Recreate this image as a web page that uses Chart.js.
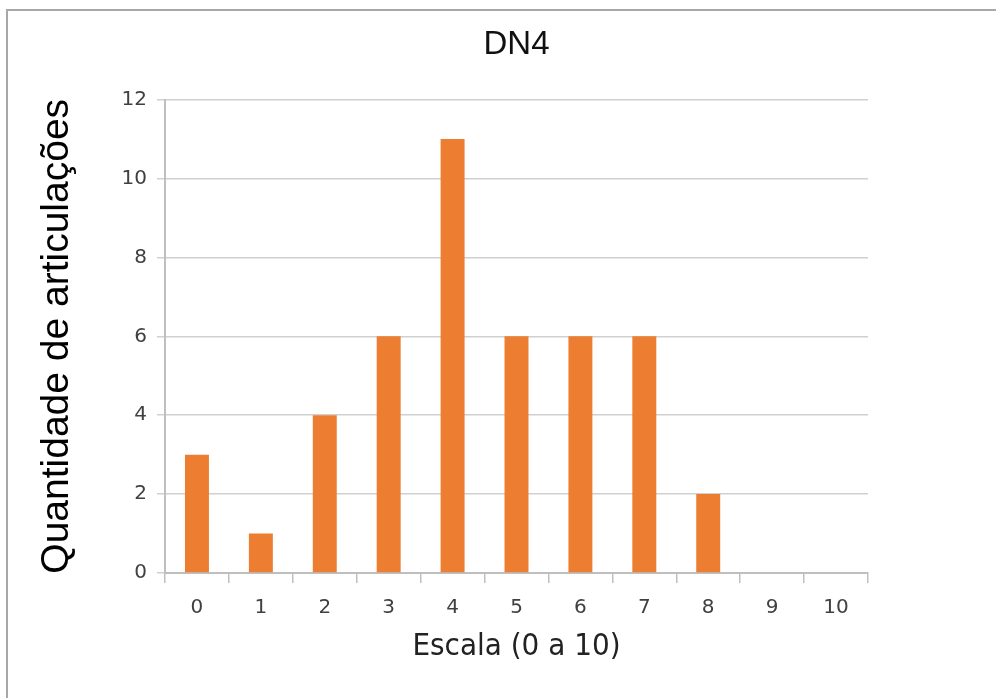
<!DOCTYPE html>
<html>
<head>
<meta charset="utf-8">
<script src="https://cdn.jsdelivr.net/npm/chart.js@4"></script>
<style>
  html, body { margin: 0; padding: 0; background: #ffffff; }
  #wrap { position: relative; width: 996px; height: 698px; }
  #frame { position: absolute; left: 6px; top: 9px; right: 0; bottom: 0;
           border-left: 2px solid #a8a8a8; border-top: 2px solid #a8a8a8; pointer-events: none; }
  canvas { position: absolute; left: 0; top: 0; }
</style>
</head>
<body>
<div id="wrap">
  <canvas id="c" width="996" height="698"></canvas>
  <div id="frame"></div>
</div>
<script>
const chartTitle = 'DN4';
const xAxisTitle = 'Escala (0 a 10)';
const yAxisTitle = 'Quantidade de articulações';
const categories = ['0', '1', '2', '3', '4', '5', '6', '7', '8', '9', '10'];
const values = [3, 1, 4, 6, 11, 6, 6, 6, 2, 0, 0];
const yTicks = [0, 2, 4, 6, 8, 10, 12];

const tickFont = "'DejaVu Sans', sans-serif";
const xTitleFont = "'DejaVu Sans Condensed', 'DejaVu Sans', sans-serif";

new Chart(document.getElementById('c'), {
  type: 'bar',
  data: {
    labels: categories,
    datasets: [{
      data: values,
      backgroundColor: '#ED7D31',
      borderWidth: 0,
      barPercentage: 0.375,
      categoryPercentage: 1.0
    }]
  },
  options: {
    responsive: false,
    animation: false,
    layout: { padding: { left: 4, right: 128, top: 0, bottom: 20 } },
    plugins: {
      legend: { display: false },
      tooltip: { enabled: false },
      title: {
        display: true,
        text: chartTitle,
        fullSize: false,
        color: '#111111',
        font: { family: "'Liberation Sans', Arial, sans-serif", size: 33, weight: 'normal' },
        padding: { top: 25, bottom: 35 }
      }
    },
    scales: {
      x: {
        grid: { offset: true, drawOnChartArea: false, drawTicks: true, tickLength: 10, color: '#bfbfbf', lineWidth: 1.5 },
        border: { display: true, color: '#bfbfbf', width: 2 },
        ticks: { color: '#404040', font: { family: tickFont, size: 20 }, padding: 13 },
        title: {
          display: true, text: xAxisTitle, color: '#222222',
          font: { family: xTitleFont, size: 31 },
          padding: { top: 0, bottom: 12 }
        },
        afterFit: (s) => { s.height = 105; }
      },
      y: {
        min: 0, max: 12,
        afterBuildTicks: (s) => { s.ticks = yTicks.map(v => ({ value: v })); },
        grid: { color: '#d0d0d0', lineWidth: 1.5, tickLength: 8, drawTicks: true },
        border: { display: true, color: '#bfbfbf', width: 2 },
        ticks: { color: '#404040', font: { family: tickFont, size: 20 }, padding: 10 },
        title: {
          display: true, text: yAxisTitle, color: '#000000',
          font: { family: "'Liberation Sans', Arial, sans-serif", size: 39 },
          padding: { top: 30, bottom: 0 }
        },
        afterFit: (s) => { s.width = 161; }
      }
    }
  }
});
</script>
</body>
</html>
